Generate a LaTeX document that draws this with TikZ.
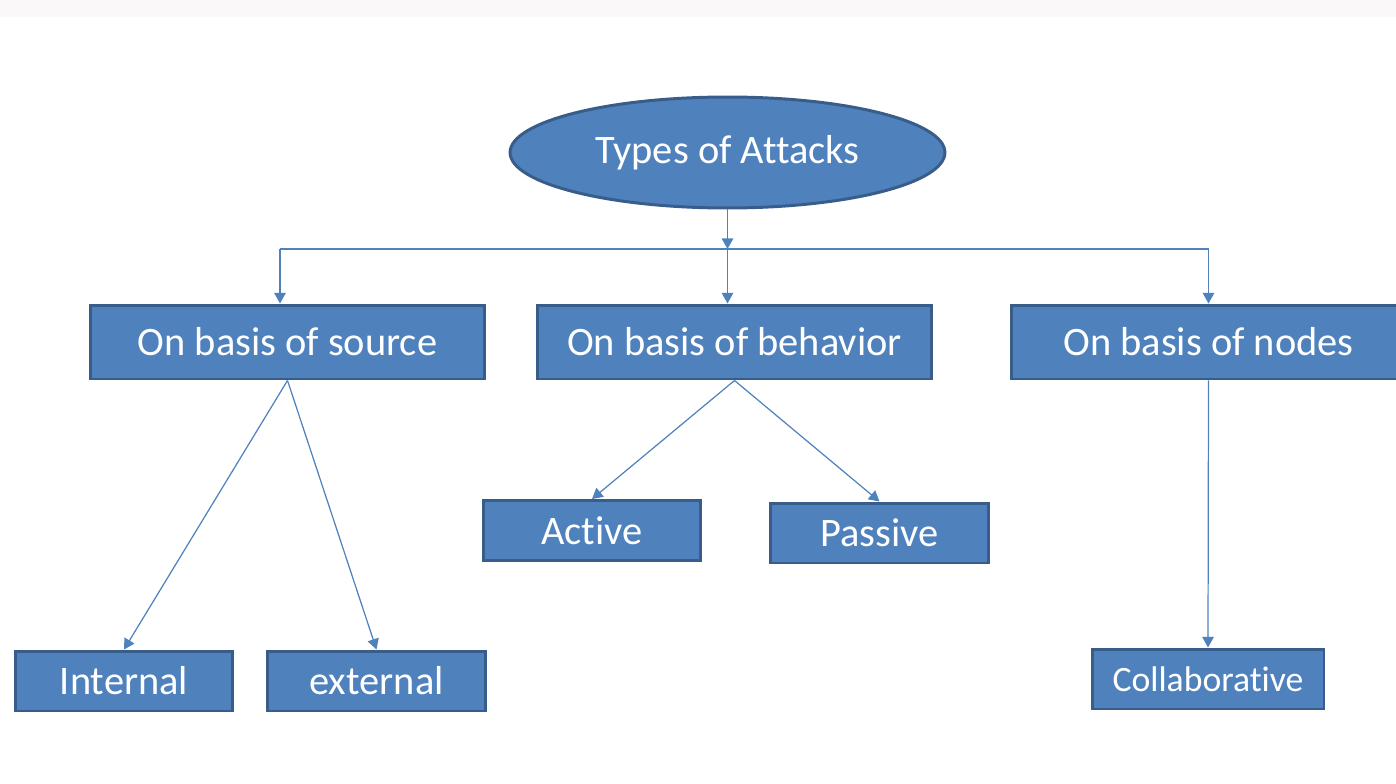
\documentclass[tikz,border=0pt]{standalone}
\usepackage{fontspec}
\setmainfont{Carlito}[Ligatures=NoCommon]
\usetikzlibrary{arrows.meta,shapes.geometric,positioning}
\definecolor{boxblue}{HTML}{4F81BD}
\definecolor{boxedge}{HTML}{385D8A}
\definecolor{stripgray}{HTML}{FAF8F8}
\begin{document}
\begin{tikzpicture}[x=0.02cm,y=-0.02cm]
  \tikzstyle{cat}=[draw=boxedge, fill=boxblue, line width=1.7pt, text=white, font=\fontsize{23}{26}\selectfont, minimum width=7.9cm, minimum height=1.48cm, inner sep=2pt]
  \tikzstyle{leaf}=[cat, minimum width=4.36cm, minimum height=1.2cm]
  \tikzstyle{link}=[draw=boxblue, line width=0.7pt, -{Triangle[width=6.5pt,length=6pt]}]

  \useasboundingbox (0,0) rectangle (1396,784);
  \clip (0,0) rectangle (1396,784);
  \fill[stripgray] (0,0) rectangle (1396,17);

  % racine
  \node[ellipse, draw=boxedge, fill=boxblue, line width=1.7pt, text=white, font=\fontsize{23}{26}\selectfont, minimum width=8.7cm, minimum height=2.22cm] (root) at (727.5,152.5) {Types of Attacks};
  \coordinate (hub) at (727.5,249);

  % categories
  \node[cat] (src) at (287.5,342) {On basis of source};
  \node[cat] (beh) at (734.5,342) {On basis of behavior};
  \node[cat] (nod) at (1208.5,342) {On basis of nodes};

  % feuilles
  \node[leaf] (int) at (124,681) {Internal};
  \node[leaf] (ext) at (376.5,681) {external};
  \node[leaf] (act) at (592,530.5) {Active};
  \node[leaf] (pas) at (879.5,533) {Passive};
  \node[leaf, minimum width=4.64cm, font=\fontsize{20.3}{23}\selectfont] (col) at (1208,679) {Collaborative};

  % liaisons
  \draw[link] (root.south) -- (hub);
  \draw[draw=boxblue, line width=0.7pt] ([xshift=-0.15cm]src.north |- hub) -- (nod.north |- hub);
  \draw[link] ([xshift=-0.15cm]src.north |- hub) -- ([xshift=-0.15cm]src.north);
  \draw[link] (hub) -- (hub |- beh.north);
  \draw[link] (nod.north |- hub) -- (nod.north);

  \draw[link] (src.south) -- (int.north);
  \draw[link] (src.south) -- (ext.north);
  \draw[link] (beh.south) -- (act.north);
  \draw[link] (beh.south) -- (pas.north);
  \draw[link] (nod.south) -- (col.north);
\end{tikzpicture}
\end{document}
